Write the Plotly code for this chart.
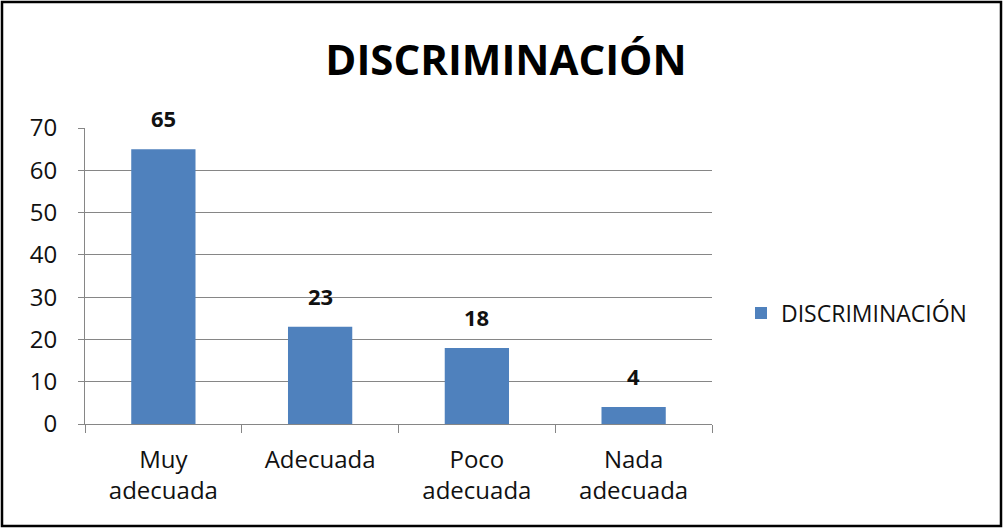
import plotly.graph_objects as go

categories = ["Muy<br>adecuada", "Adecuada", "Poco<br>adecuada", "Nada<br>adecuada"]
values = [65, 23, 18, 4]
series_name = "DISCRIMINACIÓN"
title_text = "DISCRIMINACIÓN"
y_ticks = [0, 10, 20, 30, 40, 50, 60, 70]

W, H = 1003, 528
L, R, T, B = 85, 291, 128, 104
pw, ph = W - L - R, H - T - B

fig = go.Figure()
fig.add_trace(go.Bar(
    x=categories, y=values, name=series_name,
    marker=dict(color="#4f81bd", line=dict(width=0)),
    width=0.41,
    showlegend=True,
))

for c, v in zip(categories, values):
    fig.add_annotation(x=c, y=v, text="<b>%d</b>" % v, showarrow=False,
                       xanchor="center", yanchor="bottom", yshift=14,
                       font=dict(family="Open Sans", size=22, color="#111111"))

def px_x(p):
    return (p - L) / pw

def px_y(p):
    return (H - B - p) / ph

fig.update_layout(
    width=W, height=H,
    margin=dict(l=L, r=R, t=T, b=B),
    paper_bgcolor="white", plot_bgcolor="white",
    font=dict(family="Open Sans", color="#111111"),
    title=dict(text="<b>" + title_text + "</b>", x=506 / W, xanchor="center",
               y=1 - 60 / H, yanchor="middle",
               font=dict(family="Open Sans", size=42, color="#000000")),
    showlegend=True,
    legend=dict(x=px_x(741), y=px_y(313), xanchor="left", yanchor="middle",
                font=dict(family="Open Sans", size=23, color="#111111"),
                bgcolor="rgba(0,0,0,0)", itemwidth=30),
    xaxis=dict(
        showline=True, linecolor="#868686", linewidth=1,
        ticks="outside", tickson="boundaries", ticklen=8, tickcolor="#868686",
        tickfont=dict(family="Open Sans", size=24, color="#111111"),
        ticklabelstandoff=14,
        showgrid=False,
    ),
    yaxis=dict(
        range=[0, 70], tickvals=y_ticks,
        showline=True, linecolor="#868686", linewidth=1,
        ticks="outside", ticklen=6, tickcolor="#868686",
        showgrid=True, gridcolor="#868686", gridwidth=1,
        tickfont=dict(family="Open Sans", size=24, color="#111111"),
        ticklabelstandoff=16,
        zeroline=False,
    ),
    shapes=[dict(type="rect", xref="paper", yref="paper",
                 x0=px_x(2), x1=px_x(1001), y0=px_y(526), y1=px_y(2),
                 line=dict(color="#000000", width=2.5), fillcolor="rgba(0,0,0,0)")],
)

fig.write_html("out.html", config={"displayModeBar": False},
               post_script="document.body.style.margin='0';")
